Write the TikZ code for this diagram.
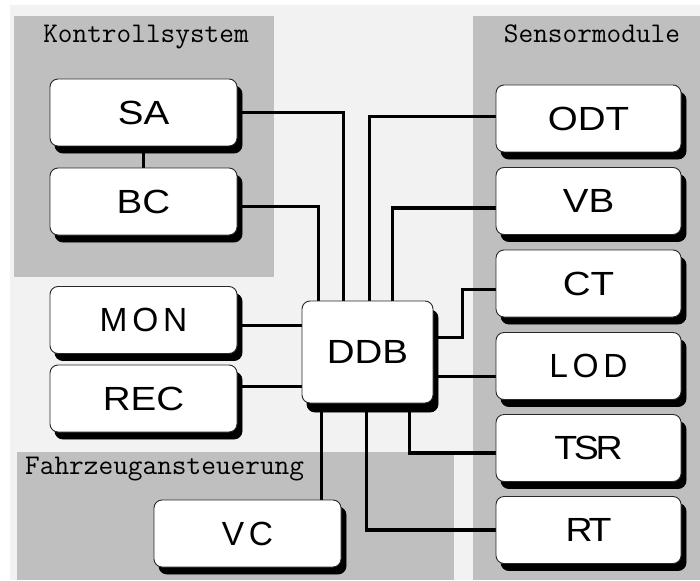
\documentclass[tikz,border=0pt]{standalone}
\usepackage{fontspec}
\newfontfamily\boxfont[FakeStretch=1.15]{Liberation Sans}
\newfontfamily\spacedfont[LetterSpace=14]{Liberation Sans}
\newfontfamily\tightfont[FakeStretch=1.12,LetterSpace=-10]{Liberation Sans}
\usetikzlibrary{calc}

\definecolor{pagegray}{RGB}{242,242,242}
\definecolor{zonegray}{RGB}{191,191,191}
\definecolor{edgegray}{RGB}{40,40,40}

\pgfdeclarelayer{zones}
\pgfdeclarelayer{links}
\pgfsetlayers{zones,links,main}

\begin{document}
\begin{tikzpicture}[
    line join=miter,
    % pixel grid, y pointing down
    x=1pt, y=-1pt
]

% ---------------------------------------------------------
% 1. CANVAS AND ZONES
% ---------------------------------------------------------
\useasboundingbox (0,0) rectangle (700,580);

\tikzset{zone label/.style={inner sep=0, font=\ttfamily\fontsize{28.5}{32}\selectfont}}

\begin{pgfonlayer}{zones}
\fill[white] (0,0) rectangle (700,580);
\fill[pagegray] (10,5) rectangle (700,580);

\fill[zonegray] (14,16) rectangle (274,277);   % Kontrollsystem
\fill[zonegray] (473,16) rectangle (700,580);  % Sensormodule
\fill[zonegray] (17,452) rectangle (454,580);  % Fahrzeugansteuerung

\node[zone label, anchor=base] (lblKS) at (146,43) {Kontrollsystem};
\node[zone label, anchor=base] (lblSM) at (592,43) {Sensormodule};
\node[zone label, anchor=base west] (lblFA) at (25,474) {Fahrzeugansteuerung};
\end{pgfonlayer}

% ---------------------------------------------------------
% 2. MODULES
% ---------------------------------------------------------
\tikzset{box shadow/.style={preaction={fill=black, draw=black, line width=0.9pt,
    transform canvas={shift={(#1)}}}}}
\tikzset{module box/.style={draw=edgegray, line width=0.9pt, fill=white,
    rounded corners=8pt, inner sep=0, minimum width=187pt, minimum height=67pt,
    box shadow={5pt,-7pt},
    font=\boxfont\fontsize{33.5}{40}\selectfont}}
\tikzset{sensor box/.style={module box, minimum width=185pt}}
\tikzset{spaced/.style={font=\spacedfont\fontsize{33.5}{40}\selectfont}}
\tikzset{tight/.style={font=\tightfont\fontsize{33.5}{40}\selectfont}}
\tikzset{link/.style={line width=3.2pt, black}}

% Control system
\node[module box] (SA)  at (143.5,112.5) {SA};
\node[module box] (BC)  at (143.5,201.5) {BC};
% Left column
\node[module box, spaced] (MON) at (143.5,320)   {MON};
\node[module box]         (REC) at (143.5,398.5) {REC};
% Vehicle control
\node[module box, spaced] (VC)  at (247.5,533.5) {VC};
% Sensor column
\node[sensor box]         (ODT) at (588.5,118.5) {ODT};
\node[sensor box]         (VB)  at (588.5,201)   {VB};
\node[sensor box]         (CT)  at (588.5,283.5) {CT};
\node[sensor box, spaced] (LOD) at (588.5,366)   {LOD};
\node[sensor box, tight]  (TSR) at (588.5,448)   {TSR};
\node[sensor box, tight]  (RT)  at (588.5,530)   {RT};

% Central data base
\node[draw=edgegray, line width=0.9pt, fill=white, rounded corners=8pt,
      inner sep=0, minimum width=131pt, minimum height=102pt,
      box shadow={5pt,-9pt}, font=\boxfont\fontsize{33.5}{40}\selectfont]
      (DDB) at (367.5,352) {DDB};

% ---------------------------------------------------------
% 3. CONNECTORS (behind the boxes and shadows)
% ---------------------------------------------------------
\coordinate (dT1) at ($(DDB.north west)+(17,0)$);
\coordinate (dT2) at ($(DDB.north west)+(42,0)$);
\coordinate (dT3) at ($(DDB.north west)+(68,0)$);
\coordinate (dT4) at ($(DDB.north west)+(91,0)$);
\coordinate (dL1) at ($(DDB.north west)+(0,25)$);
\coordinate (dL2) at ($(DDB.north west)+(0,86)$);
\coordinate (dR1) at ($(DDB.north east)+(0,37)$);
\coordinate (dR2) at ($(DDB.north east)+(0,76)$);
\coordinate (dB1) at ($(DDB.south west)+(20,0)$);
\coordinate (dB2) at ($(DDB.south west)+(65,0)$);
\coordinate (dB3) at ($(DDB.south west)+(108,0)$);

\begin{pgfonlayer}{links}
\draw[link] (SA) -- (BC);
\draw[link] (SA.east) -| (dT2);
\draw[link] ($(BC.east)+(0,5)$) -| (dT1);
\draw[link] ($(ODT.west)+(0,-2)$) -| (dT3);
\draw[link] ($(VB.west)+(0,7)$) -| (dT4);
\draw[link] (MON.east |- dL1) -- (dL1);
\draw[link] (REC.east |- dL2) -- (dL2);
\draw[link] (dR1) -- ++(29,0) |- ($(CT.west)+(0,6)$);
\draw[link] (dR2) -- (LOD.west |- dR2);
\draw[link] (dB1) -- (VC.north -| dB1);
\draw[link] (dB2) |- (RT.west);
\draw[link] (dB3) |- ($(TSR.west)+(0,5)$);
\end{pgfonlayer}

\end{tikzpicture}
\end{document}
